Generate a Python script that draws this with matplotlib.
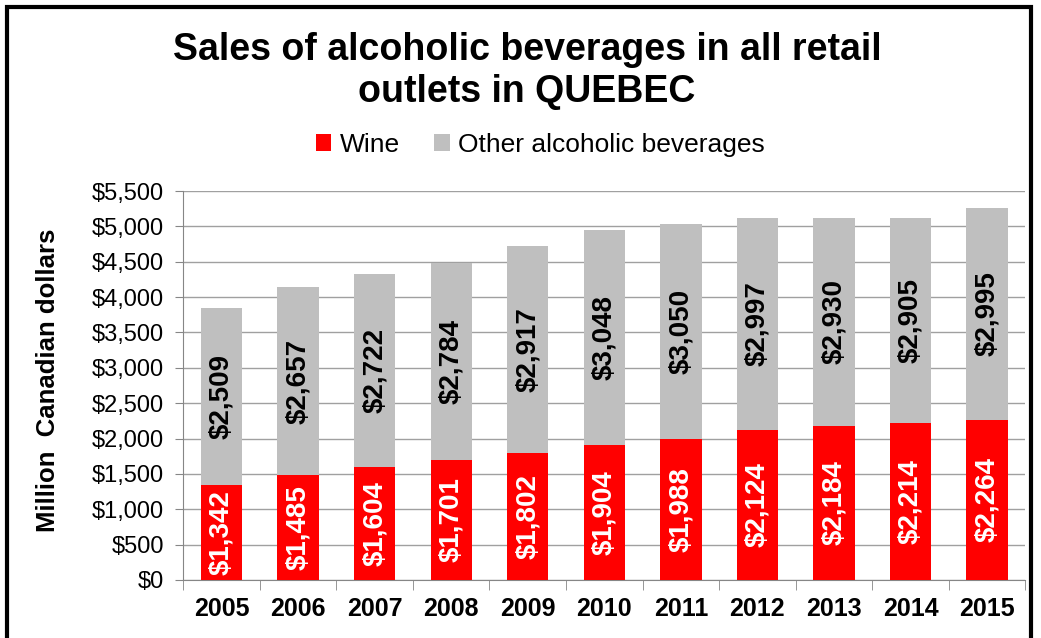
import numpy as np
import matplotlib.pyplot as plt
import matplotlib.patches as patches

plt.rcParams['font.family'] = ['Liberation Sans', 'DejaVu Sans']

years = ['2005', '2006', '2007', '2008', '2009', '2010', '2011', '2012', '2013', '2014', '2015']
wine = [1342, 1485, 1604, 1701, 1802, 1904, 1988, 2124, 2184, 2214, 2264]
other = [2509, 2657, 2722, 2784, 2917, 3048, 3050, 2997, 2930, 2905, 2995]

fig = plt.figure(figsize=(10.41, 6.38), dpi=100)
ax = fig.add_axes([0.176, 0.091, 0.809, 0.6096])

x = np.arange(len(years))
w = 0.54
b1 = ax.bar(x, wine, w, color='#ff0000', label='Wine', zorder=3)
b2 = ax.bar(x, other, w, bottom=wine, color='#bfbfbf', label='Other alcoholic beverages', zorder=3)

for i in range(len(years)):
    ax.text(x[i], wine[i] / 2, '${:,}'.format(wine[i]), rotation=90, ha='center', va='center',
            color='white', fontsize=20, fontweight='bold', zorder=4)
    ax.text(x[i], wine[i] + other[i] / 2, '${:,}'.format(other[i]), rotation=90, ha='center', va='center',
            color='black', fontsize=20, fontweight='bold', zorder=4)

ax.set_ylim(0, 5500)
ax.set_xlim(-0.5, len(years) - 0.5)
yt = np.arange(0, 5501, 500)
ax.set_yticks(yt)
ax.set_yticklabels(['${:,}'.format(v) for v in yt], fontsize=17)
ax.set_xticks(x)
ax.set_xticklabels(years, fontsize=18, fontweight='bold')
ax.tick_params(axis='x', length=0, pad=12)
ax.set_xticks(np.arange(-0.5, len(years)), minor=True)
ax.tick_params(axis='x', which='minor', length=7, color='#868686', direction='out')
ax.tick_params(axis='y', length=6, color='#868686', direction='out', pad=8)
ax.yaxis.grid(True, color='#a0a0a0', linewidth=1, zorder=0)
ax.set_axisbelow(True)
for s in ['top', 'right']:
    ax.spines[s].set_visible(False)
ax.spines['left'].set_color('#868686')
ax.spines['bottom'].set_color('#868686')

fig.text(48 / 1041, 1 - 380 / 638, 'Million  Canadian dollars', rotation=90, ha='center', va='center',
         fontsize=18.5, fontweight='bold')

fig.text(527 / 1041, 1 - 71 / 638, 'Sales of alcoholic beverages in all retail\noutlets in QUEBEC', ha='center',
         va='center', fontsize=27, fontweight='bold', linespacing=1.25)

fig.legend(handles=[b1, b2], loc='center', bbox_to_anchor=(540 / 1041, 1 - 145 / 638), ncol=2, frameon=False,
           fontsize=19, handlelength=0.6, handleheight=0.6, handletextpad=0.3, columnspacing=1.3)

fig.patches.append(patches.Rectangle((7 / 1041, -0.1), 1024 / 1041, 1.1 - 7 / 638, transform=fig.transFigure,
                                     fill=False, edgecolor='black', linewidth=3, clip_on=False))

fig.savefig('out.png', dpi=100)
